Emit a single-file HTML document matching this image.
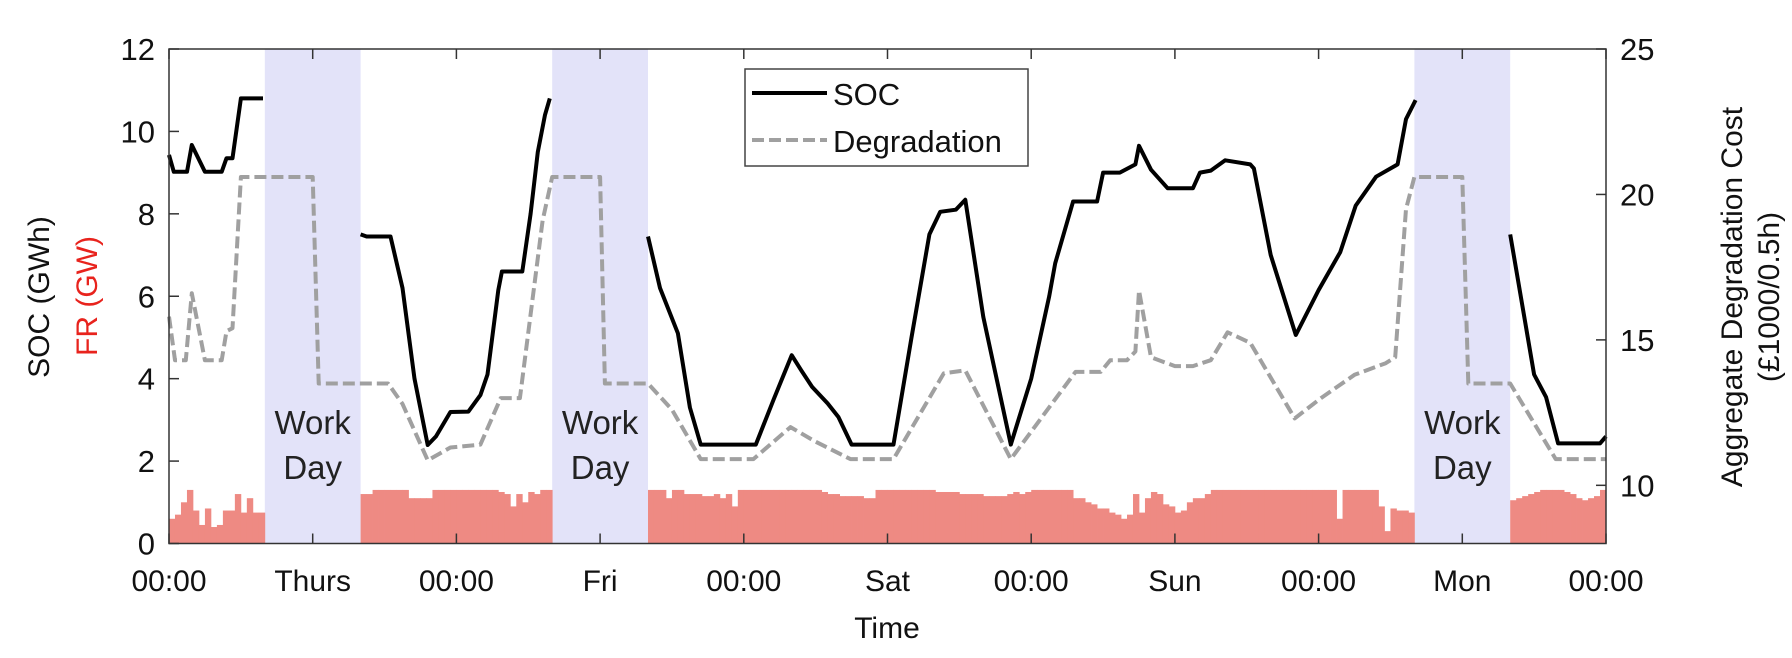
<!DOCTYPE html>
<html><head><meta charset="utf-8"><style>
html,body{margin:0;padding:0;background:#fff;}
svg{display:block;font-family:"Liberation Sans",Arial,sans-serif;}
</style></head><body>
<svg id="chart" width="1792" height="658" viewBox="0 0 1792 658" xmlns="http://www.w3.org/2000/svg">
<g id="shade"></g>
<g id="bars"></g>
<g id="lines"></g>
<g id="axes"></g>
<g>
<rect x="745" y="69" width="283" height="97" fill="#fff" stroke="#444" stroke-width="1.5"/>
<line x1="752" y1="93" x2="827" y2="93" stroke="#000" stroke-width="4"/>
<text x="833" y="105" font-size="31" fill="#111">SOC</text>
<line x1="752" y1="140" x2="827" y2="140" stroke="#a0a0a0" stroke-width="4" stroke-dasharray="12,5"/>
<text x="833" y="152" font-size="31" fill="#111">Degradation</text>
</g>
<text transform="translate(49,297) rotate(-90)" text-anchor="middle" font-size="30" fill="#111">SOC (GWh)</text>
<text transform="translate(97,296) rotate(-90)" text-anchor="middle" font-size="30" fill="#e8231d">FR (GW)</text>
<text transform="translate(1742,297) rotate(-90)" text-anchor="middle" font-size="30" fill="#111">Aggregate Degradation Cost</text>
<text transform="translate(1779,297) rotate(-90)" text-anchor="middle" font-size="30" fill="#111">(£1000/0.5h)</text>
<text x="887" y="638" text-anchor="middle" font-size="30" fill="#111">Time</text>
</svg>
<script>
const xTickLabels = ["00:00","Thurs","00:00","Fri","00:00","Sat","00:00","Sun","00:00","Mon","00:00"];
const yLeftTicks = [0,2,4,6,8,10,12];
const yRightTicks = [10,15,20,25];
const workDayStarts = [8,32,104];
const workDayEnds = [16,40,112];
const socT = [0,0.4,1.5,1.9,3,4.4,4.8,5.3,6,7.85,null,16,16.5,18.5,19.5,20.5,21.6,22.3,23.5,25,26,26.6,27.5,27.8,29.5,30.2,30.8,31.4,31.8,null,40,41,42.5,43.5,44.4,49,50.5,52,52.8,53.7,55,55.9,57,60.5,62,63.5,64.4,65.7,66.5,68,70.3,72,73.5,74,75.5,77.5,78,79.4,80.7,81,82,83.4,85.5,86.1,87,88.2,90.3,90.6,92,94.1,96,97.8,99.1,100.8,102.6,103.3,104.1,null,112,114,115,116,119.5,120];
const socV = [9.43,9.02,9.02,9.67,9.02,9.02,9.35,9.35,10.8,10.8,null,7.5,7.45,7.45,6.2,4.0,2.39,2.6,3.19,3.2,3.6,4.1,6.15,6.6,6.6,8.0,9.5,10.4,10.8,null,7.45,6.2,5.1,3.3,2.4,2.4,3.5,4.57,4.2,3.8,3.4,3.07,2.4,2.4,5.0,7.5,8.05,8.1,8.34,5.5,2.4,4.0,6.0,6.8,8.3,8.3,9.0,9.0,9.2,9.65,9.07,8.62,8.62,9.0,9.05,9.3,9.2,9.1,7.0,5.06,6.15,7.07,8.2,8.9,9.2,10.3,10.76,null,7.5,4.1,3.55,2.43,2.43,2.6];
const degT = [0,0.5,1.4,1.9,3,4.4,4.8,5.3,6,12,12.5,18.3,19.5,21.6,23.5,26,27.7,29.3,31.2,32,36,36.4,40,42,44.4,48.8,51.9,54,56.9,60.5,64.7,66.5,70.3,75.7,77.8,78.6,80,80.7,81,82,84,85.5,87,88.4,90.3,94,96.2,99,101.6,102.4,103.3,104,108,108.5,112,115.8,120];
const degV = [15.8,14.3,14.3,16.6,14.3,14.3,15.3,15.4,20.6,20.6,13.5,13.5,12.8,10.86,11.3,11.4,13.0,13.0,19.1,20.6,20.6,13.5,13.5,12.6,10.9,10.9,12.0,11.5,10.9,10.9,13.85,13.95,10.9,13.9,13.9,14.3,14.3,14.6,16.7,14.4,14.1,14.1,14.3,15.26,14.9,12.3,13.0,13.8,14.2,14.4,19.5,20.6,20.6,13.5,13.5,10.9,10.9];
const frV = [
0.6,0.7,1.0,1.3,0.8,0.45,0.85,0.4,0.45,0.8,0.8,1.2,0.75,1.1,0.75,0.75,
null,null,null,null,null,null,null,null,null,null,null,null,null,null,null,null,
1.2,1.2,1.3,1.3,1.3,1.3,1.3,1.3,1.1,1.1,1.1,1.1,1.3,1.3,1.3,1.3,1.3,1.3,1.3,1.3,1.3,1.3,1.3,1.25,1.2,0.9,1.2,1.0,1.25,1.2,1.3,1.3,
null,null,null,null,null,null,null,null,null,null,null,null,null,null,null,null,
1.3,1.3,1.3,1.1,1.3,1.3,1.2,1.2,
1.2,1.15,1.15,1.2,1.1,1.2,0.9,1.3,
1.3,1.3,1.3,1.3,1.3,1.3,1.3,1.3,
1.3,1.3,1.3,1.3,1.3,1.25,1.2,1.2,
1.15,1.15,1.15,1.15,1.1,1.1,1.3,1.3,
1.3,1.3,1.3,1.3,1.3,1.3,1.3,1.3,
1.25,1.25,1.25,1.25,1.2,1.2,1.2,1.2,
1.15,1.15,1.15,1.15,1.2,1.25,1.2,1.25,
1.3,1.3,1.3,1.3,1.3,1.3,1.3,1.1,
1.1,1.0,0.95,0.85,0.85,0.75,0.7,0.6,
0.7,1.2,0.75,1.1,1.25,1.2,0.95,0.9,
0.75,0.8,1.0,1.1,1.1,1.2,1.3,1.3,
1.3,1.3,1.3,1.3,1.3,1.3,1.3,1.3,
1.3,1.3,1.3,1.3,1.3,1.3,1.3,1.3,
1.3,1.3,1.3,0.6,1.3,1.3,1.3,1.3,
1.3,1.3,0.9,0.3,0.85,0.8,0.8,0.75,
null,null,null,null,null,null,null,null,null,null,null,null,null,null,null,null,
1.05,1.1,1.15,1.2,1.25,1.3,1.3,1.3,1.3,1.25,1.2,1.1,1.05,1.1,1.15,1.3];

const NS="http://www.w3.org/2000/svg";
const L=169,R=1606,T=49,B=543.5;
function xs(h){return L+(h/120)*(R-L);}
function yl(v){return B-(v/12)*(B-T);}
function yr(d){return B-((d-8)/17)*(B-T);}
function mk(tag,attrs,parent){const e=document.createElementNS(NS,tag);for(const k in attrs)e.setAttribute(k,attrs[k]);parent.appendChild(e);return e;}

const shade=document.getElementById('shade');
workDayStarts.forEach((s,i)=>{
  const r=mk('rect',{x:xs(s),y:T,width:xs(workDayEnds[i])-xs(s),height:B-T,fill:'#e3e3f9'},shade);
  
  
  const c=(xs(s)+xs(workDayEnds[i]))/2;
  const t1=mk('text',{x:c,y:434,'text-anchor':'middle','font-size':'33',fill:'#222'},shade);
  t1.textContent='Work';
  
  
  const t2=mk('text',{x:c,y:479,'text-anchor':'middle','font-size':'33',fill:'#222'},shade);
  t2.textContent='Day';
  
  
});

const bars=document.getElementById('bars');
frV.forEach((v,i)=>{
  if(v===null)return;
  const x0=xs(i*0.5),x1=xs(i*0.5+0.5);
  const b=mk('rect',{x:x0,y:yl(v),width:x1-x0+0.4,height:B-yl(v),fill:'#ee8a83'},bars);
  
  
});

function path(ts,vs,yf){let d='',pen=false;ts.forEach((t,i)=>{if(t===null||vs[i]===null){pen=false;return;}d+=(pen?'L':'M')+xs(t).toFixed(1)+' '+yf(vs[i]).toFixed(1);pen=true;});return d;}
const lines=document.getElementById('lines');
const dl=mk('path',{d:path(degT,degV,yr),fill:'none',stroke:'#a0a0a0','stroke-width':'4','stroke-dasharray':'12,5','stroke-linejoin':'round'},lines);


const sl=mk('path',{d:path(socT,socV,yl),fill:'none',stroke:'#000','stroke-width':'4','stroke-linejoin':'round'},lines);



const ax=document.getElementById('axes');
const frame=mk('rect',{x:L,y:T,width:R-L,height:B-T,fill:'none',stroke:'#333','stroke-width':'1.5'},ax);


xTickLabels.forEach((lab,i)=>{
  const x=xs(i*12);
  mk('line',{x1:x,y1:B,x2:x,y2:B-10,stroke:'#333','stroke-width':'1.5'},ax);
  mk('line',{x1:x,y1:T,x2:x,y2:T+10,stroke:'#333','stroke-width':'1.5'},ax);
  const t=mk('text',{x:x,y:591,'text-anchor':'middle','font-size':'30',fill:'#111'},ax);
  t.textContent=lab;
  
  
});
yLeftTicks.forEach(v=>{
  const y=yl(v);
  mk('line',{x1:L,y1:y,x2:L+10,y2:y,stroke:'#333','stroke-width':'1.5'},ax);
  const t=mk('text',{x:155,y:y+11,'text-anchor':'end','font-size':'31',fill:'#111'},ax);
  t.textContent=v;
  
  
});
yRightTicks.forEach(v=>{
  const y=yr(v);
  mk('line',{x1:R,y1:y,x2:R-10,y2:y,stroke:'#333','stroke-width':'1.5'},ax);
  const t=mk('text',{x:1620,y:y+11,'text-anchor':'start','font-size':'31',fill:'#111'},ax);
  t.textContent=v;
  
  
});
</script>
</body></html>
